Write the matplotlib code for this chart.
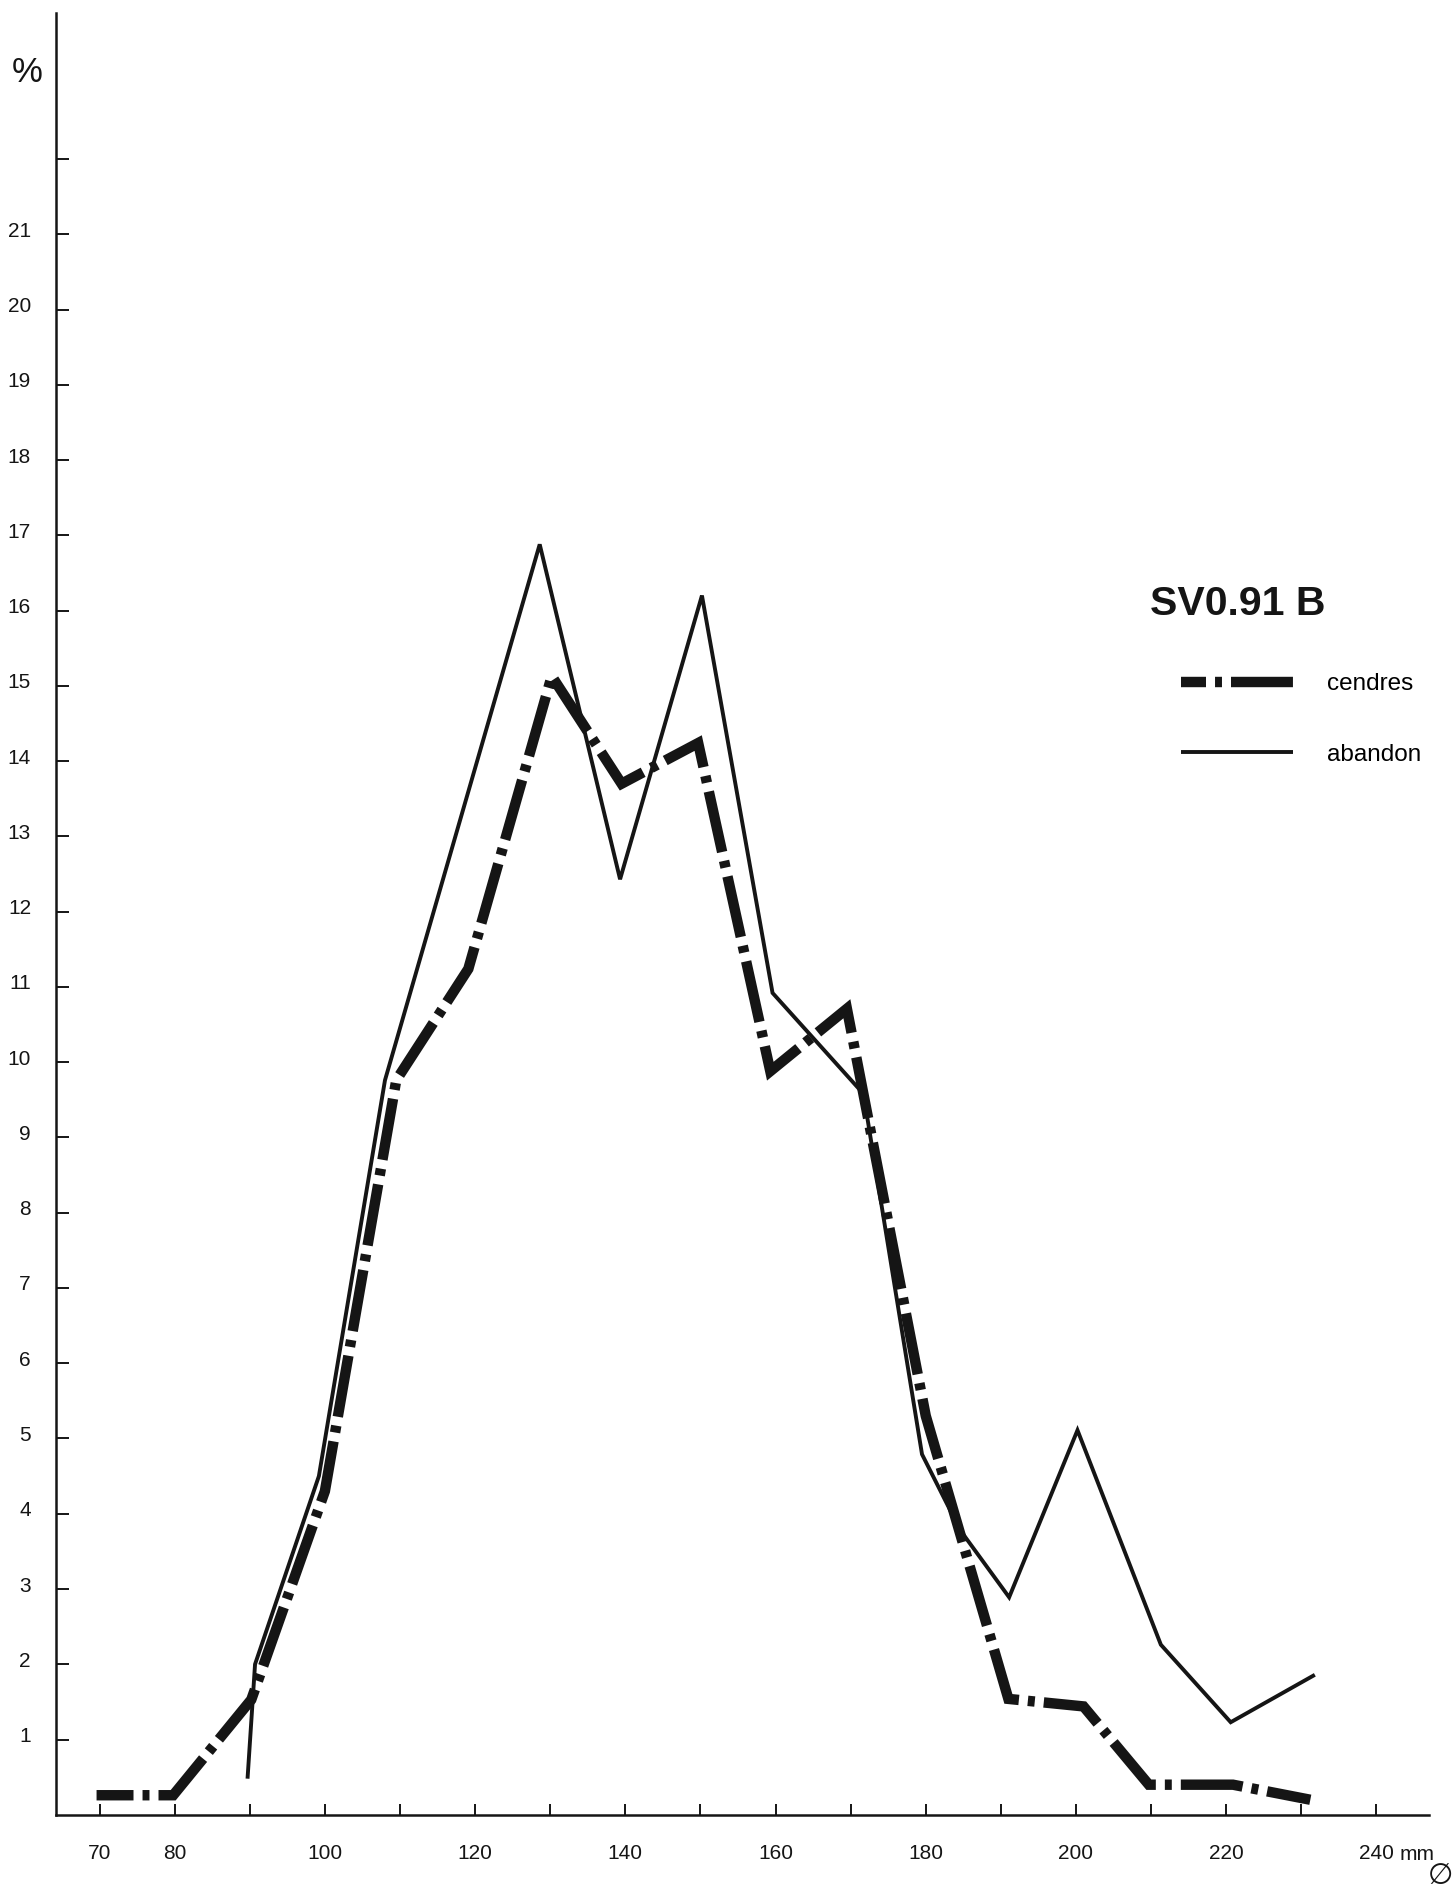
import matplotlib
matplotlib.use("Agg")
import matplotlib.pyplot as plt
import matplotlib.transforms as mtransforms
from matplotlib.lines import Line2D

plt.rcParams['font.family'] = ['Liberation Sans', 'DejaVu Sans']
plt.rcParams['lines.scale_dashes'] = False

# Diameter (mm) and share of items (%) for each sample
cendres_x = [69.6, 79.8, 90.2, 100.0, 109.5, 119.1, 130.2, 139.5, 149.7,
             159.3, 169.5, 180.0, 191.0, 201.0, 209.7, 220.9, 231.2]
cendres_y = [0.26, 0.26, 1.53, 4.3, 9.76, 11.24, 15.13, 13.70, 14.24,
             9.88, 10.71, 5.3, 1.54, 1.44, 0.40, 0.40, 0.20]

abandon_x = [89.7, 90.7, 99.2, 108.0, 128.6, 139.3, 150.2, 159.6, 171.7,
             179.5, 184.6, 191.1, 200.2, 211.3, 220.6, 231.8]
abandon_y = [0.48, 2.0, 4.5, 9.76, 16.88, 12.43, 16.2, 10.92, 9.58,
             4.79, 3.78, 2.89, 5.11, 2.26, 1.23, 1.86]

series_labels = ['cendres', 'abandon']
sample_name = 'SV0.91 B'

y_ticks = list(range(1, 23))
y_tick_labels = [str(v) for v in range(1, 22)] + ['']
x_ticks = list(range(70, 250, 10))
x_tick_labels = ['70', '80', '', '100', '', '120', '', '140', '', '160',
                 '', '180', '', '200', '', '220', '', '240']

INK = '#151515'
W, H, DPI = 1452, 1894, 100
DASH = (44.6, 6.5, 5.0, 6.5)

fig = plt.figure(figsize=(W / DPI, H / DPI), dpi=DPI)
fig.patch.set_facecolor('white')
ax = fig.add_axes([56 / W, 1 - 1814.8 / H, (1429 - 56) / W, (1814.8 - 13) / H])
ax.set_xlim(64.2, 247)
ax.set_ylim(0, 23.94)

ax.plot(cendres_x, cendres_y, color=INK, lw=7.5, linestyle=(18, DASH),
        dash_capstyle='butt', dash_joinstyle='miter', zorder=3)
ax.plot(abandon_x, abandon_y, color=INK, lw=2.8,
        solid_joinstyle='miter', solid_capstyle='butt', zorder=4)

for side in ('top', 'right'):
    ax.spines[side].set_visible(False)
for side in ('left', 'bottom'):
    ax.spines[side].set_linewidth(1.8)
    ax.spines[side].set_color(INK)

ax.set_yticks(y_ticks)
ax.set_yticklabels(y_tick_labels)
ax.set_xticks(x_ticks)
ax.set_xticklabels(x_tick_labels)
ax.tick_params(axis='y', direction='in', length=9.4, width=1.4, pad=18,
               labelsize=15, colors=INK)
ax.tick_params(axis='x', direction='in', length=8, width=1.4, pad=21,
               labelsize=15, colors=INK)

# lift the y labels slightly above their ticks
lift = mtransforms.ScaledTranslation(0, 0.05, fig.dpi_scale_trans)
for lab in ax.get_yticklabels():
    lab.set_transform(lab.get_transform() + lift)

# unit written after the last tick label, on the same baseline
ax.annotate('mm', xy=(240, 0), xytext=(17, -32.2), textcoords='offset points',
            ha='left', va='baseline', fontsize=15, color=INK,
            annotation_clip=False)

fig.text(27 / W, 1 - 73 / H, '%', ha='center', va='center', fontsize=25,
         color=INK)
fig.text(1440 / W, 1 - 1876 / H, '∅', ha='center', va='center', fontsize=21,
         color=INK, family=['DejaVu Sans'])
fig.text(1150 / W, 1 - 604 / H, sample_name, ha='left', va='center',
         fontsize=29.5, fontweight='bold', color=INK)

handles = [
    Line2D([], [], color=INK, lw=7.5, linestyle=(26.6, DASH),
           dash_capstyle='butt'),
    Line2D([], [], color=INK, lw=2.8, solid_capstyle='butt'),
]
ax.legend(handles, series_labels, loc='upper left',
          bbox_to_anchor=(1181 / W, 1 - 673 / H), bbox_transform=fig.transFigure,
          frameon=False, fontsize=17.5, handlelength=4.6, handletextpad=1.4,
          labelspacing=2.0, borderpad=0, borderaxespad=0)

fig.savefig('out.png', dpi=DPI, facecolor='white')
